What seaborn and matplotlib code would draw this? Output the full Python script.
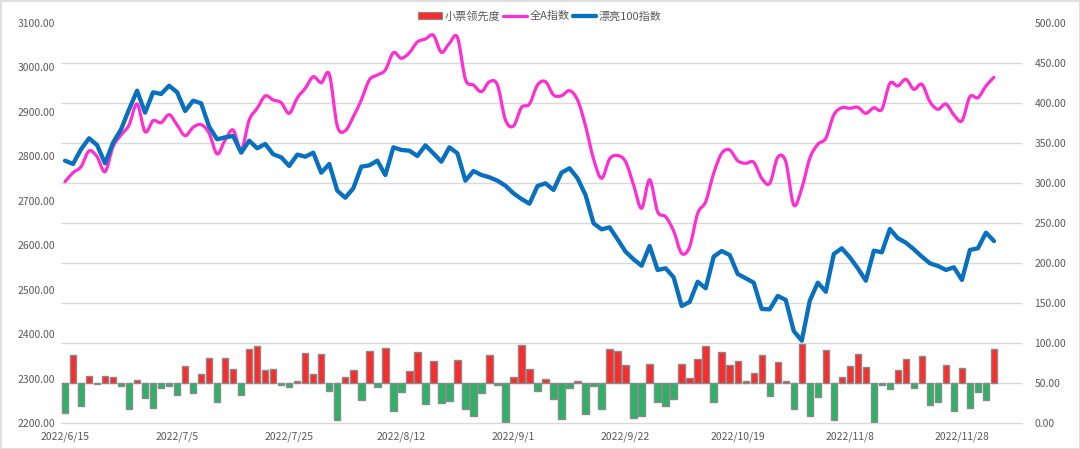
import numpy as np
import pandas as pd
import matplotlib
matplotlib.use("Agg")
import matplotlib.pyplot as plt
import seaborn as sns
from matplotlib.path import Path
from matplotlib.patches import PathPatch, Rectangle, Patch
from matplotlib.lines import Line2D
from matplotlib.ticker import FixedLocator, NullFormatter

# ---------------- data ----------------
holidays = ["2022-09-12", "2022-10-03", "2022-10-04", "2022-10-05", "2022-10-06", "2022-10-07"]
dates = pd.bdate_range("2022-06-15", "2022-12-02", freq="C", holidays=holidays)
date_labels = [f"{d.year}/{d.month}/{d.day}" for d in dates]

series_names = ["小票领先度", "全A指数", "漂亮100指数"]

# 小票领先度 (right axis, bars drawn from 50)
lead = [12.1, 85.4, 21.2, 58.3, 48.3, 59.2, 57.5, 45.8, 17.9, 53.8,
        31.3, 19.2, 43.8, 45.8, 34.6, 70.8, 37.9, 61.7, 81.7, 25.8,
        81.7, 67.9, 34.6, 92.9, 96.7, 66.3, 67.5, 47.1, 44.6, 52.5,
        87.1, 61.7, 86.3, 40.4, 4.2, 57.9, 66.7, 28.8, 90.0, 45.4,
        93.3, 14.6, 38.3, 65.4, 88.8, 23.3, 77.5, 24.6, 27.9, 78.3,
        17.1, 9.2, 37.1, 85.0, 47.9, 1.3, 57.1, 97.5, 67.9, 39.6,
        55.0, 29.6, 5.4, 44.2, 52.9, 11.7, 46.7, 17.1, 92.1, 90.4,
        72.9, 6.3, 8.8, 74.2, 25.8, 20.8, 30.4, 74.2, 55.8, 79.6,
        96.7, 25.8, 89.2, 72.1, 77.9, 52.5, 62.5, 85.0, 33.8, 76.3,
        52.5, 17.5, 99.2, 8.3, 32.9, 91.7, 4.2, 57.1, 70.8, 85.8,
        70.0, 1.7, 47.9, 42.9, 66.3, 79.6, 43.3, 83.8, 22.9, 26.7,
        72.1, 14.6, 68.8, 18.8, 38.8, 28.8, 92.1]

# 全A指数 (left axis)
quan_a = [2742.9, 2763.2, 2776.7, 2812.0, 2799.2, 2765.4, 2821.7, 2848.0, 2870.5, 2917.8,
          2855.4, 2880.2, 2875.7, 2893.7, 2870.5, 2846.4, 2865.3, 2871.2, 2851.8, 2805.3,
          2836.8, 2859.3, 2814.3, 2881.8, 2908.1, 2935.8, 2926.8, 2920.7, 2896.8, 2931.3,
          2953.1, 2979.2, 2965.7, 2984.6, 2868.3, 2857.7, 2889.2, 2926.8, 2971.8, 2983.0,
          2994.3, 3033.2, 3020.6, 3033.2, 3057.3, 3064.0, 3072.3, 3034.1, 3054.3, 3067.8,
          2973.3, 2960.5, 2945.4, 2967.9, 2960.5, 2881.8, 2868.3, 2909.9, 2917.8, 2960.5,
          2967.9, 2938.0, 2936.4, 2947.7, 2926.8, 2868.3, 2794.0, 2750.6, 2794.0, 2801.9,
          2787.9, 2735.5, 2683.1, 2747.4, 2675.4, 2664.2, 2632.0, 2581.8, 2596.7, 2671.8,
          2697.9, 2761.8, 2806.8, 2814.3, 2790.2, 2784.3, 2786.6, 2750.6, 2739.3, 2797.8,
          2787.9, 2690.5, 2728.1, 2795.6, 2827.1, 2840.6, 2893.0, 2909.4, 2908.1, 2910.3,
          2896.8, 2909.4, 2905.8, 2964.3, 2958.3, 2973.3, 2950.8, 2962.1, 2922.9, 2905.8,
          2917.8, 2893.0, 2880.2, 2934.2, 2931.9, 2958.3, 2977.8]

# 漂亮100指数 (right axis)
pretty100 = [327.9, 323.8, 342.1, 355.9, 347.5, 324.6, 350.4, 367.1, 392.1, 415.4,
             387.9, 413.4, 411.3, 421.6, 413.4, 390.0, 402.9, 399.6, 370.4, 354.6,
             357.1, 358.8, 337.9, 352.9, 343.4, 348.8, 335.9, 332.1, 321.3, 335.5,
             332.9, 337.9, 312.9, 323.8, 290.4, 281.6, 293.4, 320.4, 322.1, 327.9,
             310.0, 344.6, 341.3, 340.4, 333.8, 347.1, 337.1, 326.6, 344.6, 337.1,
             302.9, 315.0, 310.0, 307.1, 302.9, 296.6, 287.1, 280.0, 274.1, 296.3,
             299.6, 291.3, 312.9, 318.4, 305.9, 285.0, 249.6, 242.1, 244.6, 229.6,
             214.1, 204.6, 196.6, 221.3, 191.3, 193.4, 182.1, 146.3, 151.3, 176.6,
             168.4, 207.9, 215.0, 210.0, 186.3, 180.9, 175.4, 142.5, 142.1, 158.8,
             153.8, 115.0, 102.9, 152.9, 175.4, 164.1, 211.3, 218.4, 207.1, 193.4,
             177.9, 215.4, 213.4, 242.5, 230.9, 225.4, 217.1, 207.9, 199.6, 196.3,
             191.3, 194.6, 178.8, 216.3, 218.4, 237.9, 227.5]

left_ticks = [2200, 2300, 2400, 2500, 2600, 2700, 2800, 2900, 3000, 3100]
right_ticks = [0, 50, 100, 150, 200, 250, 300, 350, 400, 450, 500]
label_every = 14
n_categories = 120

# ---------------- style ----------------
RED = "#ff2a2a"
GREEN = "#29b465"
EDGE = "#8a8a8a"
MAGENTA = "#ff2ed2"
BLUE = "#0870bf"
GRID = "#d9d9d9"
TXT = "#595959"

sns.set_theme(style="white")
plt.rcParams["font.family"] = ["Noto Sans CJK SC", "DejaVu Sans"]
plt.rcParams["axes.unicode_minus"] = False

fig = plt.figure(figsize=(10.8, 4.49), dpi=100)
ax = fig.add_axes([61 / 1080, 1 - 423 / 449, (1022 - 61) / 1080, 400 / 449])
ax2 = ax.twinx()

x = np.arange(len(dates))
df = pd.DataFrame({"x": x, "lead": lead, "quan_a": quan_a, "pretty100": pretty100})

# bars on right axis, baseline 50
colors = [RED if v >= 50 else GREEN for v in df["lead"]]
ax2.bar(df["x"], df["lead"] - 50, bottom=50, width=0.8, color=colors,
        edgecolor=EDGE, linewidth=1.0, zorder=2)

# smoothed 全A line (Bezier through the data points, Excel-style smoothing)
pts = np.column_stack([df["x"].to_numpy(float), df["quan_a"].to_numpy(float)])
verts = [pts[0]]
codes = [Path.MOVETO]
n = len(pts)
for i in range(n - 1):
    p0 = pts[i - 1] if i > 0 else pts[i]
    p1 = pts[i]
    p2 = pts[i + 1]
    p3 = pts[i + 2] if i + 2 < n else pts[i + 1]
    c1 = p1 + (p2 - p0) / 6.0
    c2 = p2 - (p3 - p1) / 6.0
    verts += [c1, c2, p2]
    codes += [Path.CURVE4] * 3
ax.add_patch(PathPatch(Path(verts, codes), facecolor="none", edgecolor=MAGENTA,
                       linewidth=2.3, capstyle="round", joinstyle="round", zorder=3))

# 漂亮100 line on right axis
sns.lineplot(data=df, x="x", y="pretty100", ax=ax2, color=BLUE, linewidth=3.1,
             legend=False, zorder=4)

# axes limits
ax.set_xlim(-0.5, n_categories - 0.5)
ax.set_ylim(2200, 3100)
ax2.set_ylim(0, 500)

# left axis ticks & grid (grid matches the right axis ticks)
ax.set_yticks(left_ticks)
ax.set_yticklabels([f"{v:.2f}" for v in left_ticks])
grid_pos = [2200 + (v / 500) * 900 for v in right_ticks]
ax.yaxis.set_minor_locator(FixedLocator(grid_pos))
ax.yaxis.set_minor_formatter(NullFormatter())
ax.grid(False)
ax.grid(True, which="minor", axis="y", color=GRID, linewidth=1.0, zorder=0)
ax.set_axisbelow(True)
ax.tick_params(axis="y", which="both", length=0, pad=4.5, labelsize=7.5, labelcolor=TXT)

ax2.set_yticks(right_ticks)
ax2.set_yticklabels([f"{v:.2f}" for v in right_ticks])
ax2.tick_params(axis="y", length=0, pad=9, labelsize=7.5, labelcolor=TXT)
ax2.grid(False)

# x ticks
major = list(range(0, len(dates), label_every))
ax.set_xticks(major)
ax.set_xticklabels([date_labels[i] for i in major])
ax.xaxis.set_minor_locator(FixedLocator(np.arange(-0.5, n_categories, 2)))
ax.tick_params(axis="x", which="major", length=0, pad=6, labelsize=7.5, labelcolor=TXT)
ax.tick_params(axis="x", which="minor", length=3.6, width=0.9, color=GRID, direction="out")
ax.set_xlabel("")
ax.set_ylabel("")
ax2.set_xlabel("")
ax2.set_ylabel("")

for a in (ax, ax2):
    for s in ("top", "left", "right"):
        a.spines[s].set_visible(False)
    a.spines["bottom"].set_color(GRID)
    a.spines["bottom"].set_linewidth(1.0)
ax2.spines["bottom"].set_visible(False)

# legend
handles = [Patch(facecolor=RED, edgecolor=EDGE, linewidth=0.8),
           Line2D([0], [0], color=MAGENTA, linewidth=2.3),
           Line2D([0], [0], color=BLUE, linewidth=3.1)]
leg = fig.legend(handles, series_names, loc="center", bbox_to_anchor=(0.5, 1 - 16 / 449),
                 ncol=3, frameon=False, fontsize=8, handlelength=2.1, handleheight=0.6,
                 handletextpad=0.25, columnspacing=0.3, borderaxespad=0)
for t in leg.get_texts():
    t.set_color(TXT)

# outer border
fig.patches.append(Rectangle((0.5 / 1080, 0.5 / 449), 1 - 1 / 1080, 1 - 1 / 449,
                             transform=fig.transFigure, fill=False,
                             edgecolor="#d9d9d9", linewidth=1.2))

fig.savefig("out.png", dpi=100, facecolor="white")
